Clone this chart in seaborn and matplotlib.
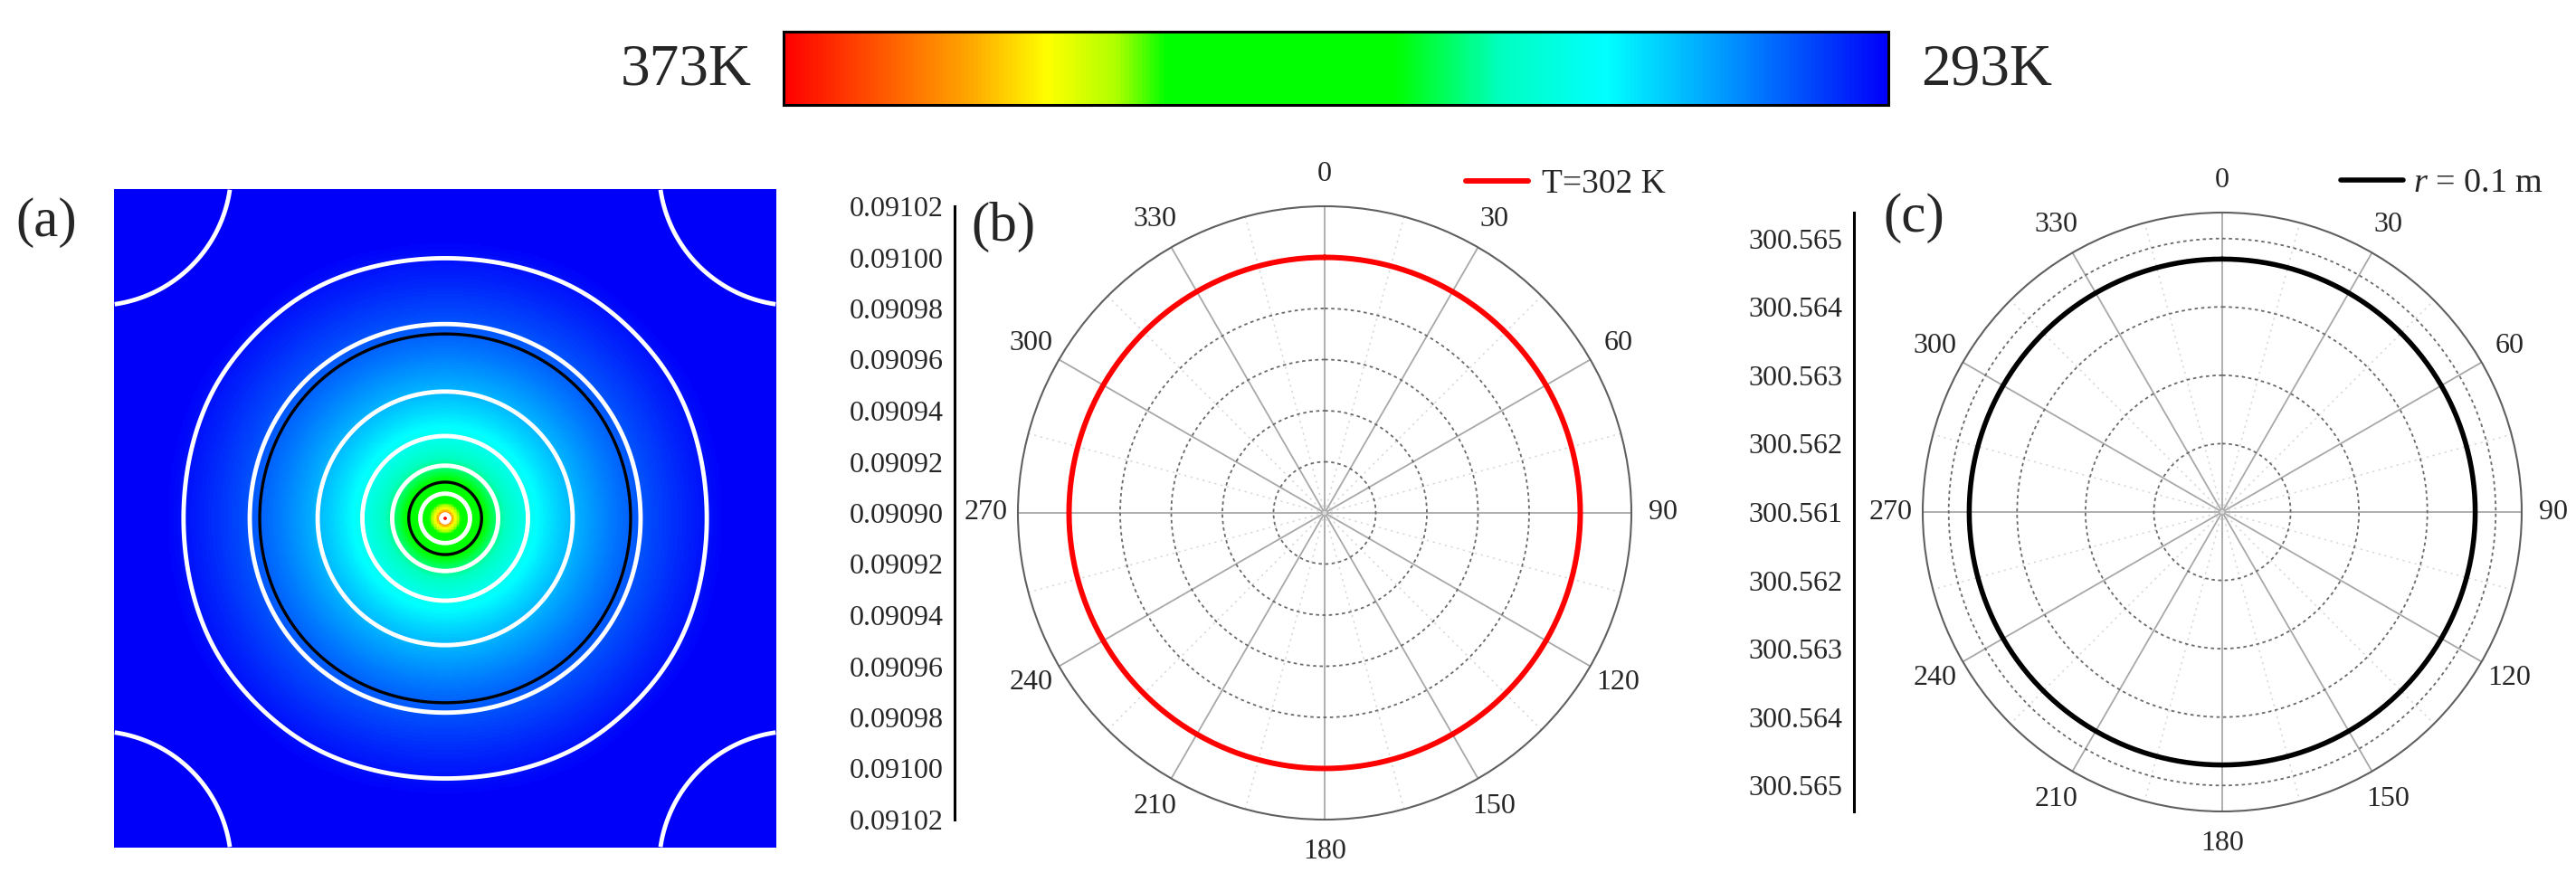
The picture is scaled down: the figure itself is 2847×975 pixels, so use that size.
import numpy as np
import matplotlib
matplotlib.use("Agg")
import matplotlib.pyplot as plt
import seaborn as sns
from matplotlib.colors import LinearSegmentedColormap
from matplotlib.ticker import FixedLocator, FixedFormatter

sns.set_style("white")
plt.rcParams['font.family'] = ['Liberation Serif', 'DejaVu Serif']
plt.rcParams['mathtext.fontset'] = 'custom'
plt.rcParams['mathtext.rm'] = 'Liberation Serif'
plt.rcParams['mathtext.it'] = 'Liberation Serif:italic'

# ---------------- data ----------------
T_low, T_high = 293, 373
cbar_left_label = "373K"
cbar_right_label = "293K"
cmap_positions = [0.0, 0.155, 0.254, 0.35, 0.447, 0.654, 0.70, 0.762, 0.83, 0.92, 1.0]
cmap_colors = ["#0000FA", "#00A0FF", "#00FFFF", "#00FFC0", "#00FF00", "#00FF00",
               "#B0FF00", "#FFFF00", "#FFAA00", "#FF5000", "#FF0000"]

# panel (a): temperature field model (normalised half-width units)
zero_radius = 0.85          # radius where field reaches 293 K
hot_radius = 0.0105         # radius where field reaches 373 K
square_factor = 0.03        # squareness of outer isotherms
well_depth = 3.0
well_width = 0.25
white_contour_radii = [0.012, 0.075, 0.16, 0.25, 0.385, 0.59, 0.79]
black_contour_radii = [0.11, 0.56]
corner_contour_offset = 0.35

# panel (b): T = 302 K isotherm radius vs angle
angles_deg = list(range(0, 361, 2))
iso302_radius = [0.09100] * len(angles_deg)
b_rmin, b_rmax = 0.09090, 0.09102
b_rings = [0.09092, 0.09094, 0.09096, 0.09098, 0.09100]
b_scale_labels = ["0.09102", "0.09100", "0.09098", "0.09096", "0.09094", "0.09092", "0.09090",
                  "0.09092", "0.09094", "0.09096", "0.09098", "0.09100", "0.09102"]

# panel (c): temperature on r = 0.1 m vs angle
r01_temperature = [300.5647] * len(angles_deg)
c_rmin, c_rmax = 300.561, 300.56538
c_rings = [300.562, 300.563, 300.564, 300.565]
c_scale_labels = ["300.565", "300.564", "300.563", "300.562", "300.561",
                  "300.562", "300.563", "300.564", "300.565"]

angle_labels = ["0", "30", "60", "90", "120", "150", "180", "210", "240", "270", "300", "330"]

# ---------------- figure ----------------
W, H = 2847, 975
fig = plt.figure(figsize=(W / 100, H / 100), dpi=100)


def fr(x0, y0, x1, y1):
    return [x0 / W, 1 - y1 / H, (x1 - x0) / W, (y1 - y0) / H]


cmap = LinearSegmentedColormap.from_list("temp", list(zip(cmap_positions, cmap_colors)))


def field(x, y):
    r = np.hypot(x, y)
    rs = np.maximum(r, 1e-6)
    s2 = (2 * x * y / rs ** 2) ** 2
    rho = r * (1 - square_factor * s2 * np.minimum(1, (r / 0.87) ** 4))
    rho = np.maximum(rho, 1e-4)
    F = np.log(zero_radius / rho)
    for cx in (-1, 1):
        for cy in (-1, 1):
            F = F - well_depth * np.exp(-((x - cx) ** 2 + (y - cy) ** 2) / well_width ** 2)
    return F


N = 500
g = -1 + (np.arange(N) + 0.5) * 2 / N
X, Y = np.meshgrid(g, g)
F = field(X, Y)
Fhot = np.log(zero_radius / hot_radius)
Tfield = T_low + (T_high - T_low) * np.clip(F / Fhot, 0, 1)

axA = fig.add_axes(fr(126, 209, 858, 937))
cax = fig.add_axes(fr(866, 35, 2087, 116))
sns.heatmap(Tfield, ax=axA, cmap=cmap, vmin=T_low, vmax=T_high, cbar=True, cbar_ax=cax,
            cbar_kws={'orientation': 'horizontal'}, xticklabels=False, yticklabels=False,
            rasterized=True)
cc = np.arange(N) + 0.5
white_levels = sorted([float(field(r, 0.0)) for r in white_contour_radii] +
                      [float(field(1 - corner_contour_offset, 1.0))])
black_levels = sorted([float(field(r, 0.0)) for r in black_contour_radii])
axA.contour(cc, cc, F, levels=white_levels, colors='white', linewidths=3.5, linestyles='solid')
axA.contour(cc, cc, F, levels=black_levels, colors='black', linewidths=2.4, linestyles='solid')

cbar = axA.collections[0].colorbar
cbar.ax.invert_xaxis()
cbar.set_ticks([])
cbar.outline.set_linewidth(2.2)
cbar.outline.set_edgecolor('black')

fig.text(758 / W, 1 - 78 / H, cbar_left_label, fontsize=47, ha='center', va='center')
fig.text(2196 / W, 1 - 78 / H, cbar_right_label, fontsize=47, ha='center', va='center')

fig.text(51 / W, 1 - 246 / H, "(a)", fontsize=44, ha='center', va='center')
fig.text(1109 / W, 1 - 251 / H, "(b)", fontsize=44, ha='center', va='center')
fig.text(2115 / W, 1 - 241 / H, "(c)", fontsize=44, ha='center', va='center')


def setup_polar(ax, rmin, rmax, rings):
    ax.set_theta_zero_location('N')
    ax.set_theta_direction(-1)
    ax.set_ylim(rmin, rmax)
    ax.set_yticks(rings)
    ax.set_yticklabels([])
    ax.set_xticks(np.deg2rad(np.arange(0, 360, 30)))
    ax.set_xticklabels(angle_labels)
    ax.xaxis.set_minor_locator(FixedLocator(np.deg2rad(np.arange(15, 360, 30))))
    ax.grid(True, which='major', axis='x', color='#a8a8a8', linewidth=1.3, linestyle='-')
    ax.grid(True, which='minor', axis='x', color='#d8d8d8', linewidth=1.1, linestyle=(0, (1.5, 3)))
    ax.grid(True, which='major', axis='y', color='#6a6a6a', linewidth=1.3, linestyle=(0, (2, 2)))
    ax.tick_params(axis='x', which='major', labelsize=23, pad=18.5, direction='in',
                   length=10, width=1.3, color='#555555')
    ax.tick_params(axis='x', which='minor', direction='in', length=7, width=1.1, color='#777777')
    ax.tick_params(axis='y', length=0)
    ax.spines['polar'].set_color('#606060')
    ax.spines['polar'].set_linewidth(1.5)


def radial_scale(rect, span, labels):
    ax = fig.add_axes(rect)
    ax.set_xlim(0, 1)
    ax.set_ylim(-span, span)
    for s in ['top', 'right', 'bottom']:
        ax.spines[s].set_visible(False)
    ax.spines['left'].set_linewidth(2.2)
    ax.spines['left'].set_color('black')
    ax.set_xticks([])
    n = len(labels)
    half = float(labels[0]) - float(labels[n // 2])
    ticks = np.linspace(half, -half, n)
    ax.yaxis.set_major_locator(FixedLocator(ticks))
    ax.yaxis.set_major_formatter(FixedFormatter(labels))
    ax.tick_params(axis='y', length=0, pad=9, labelsize=23)
    ax.patch.set_alpha(0)
    return ax


theta = np.deg2rad(angles_deg)

# ---- panel (b)
axB = fig.add_axes(fr(1464 - 339, 567 - 339, 1464 + 339, 567 + 339), projection='polar')
sns.lineplot(x=theta, y=iso302_radius, ax=axB, color='#FF0000', linewidth=4.3,
             sort=False, estimator=None, label='T=302 K')
setup_polar(axB, b_rmin, b_rmax, b_rings)
axB.legend(loc='center left', bbox_to_anchor=(1620 / W, 1 - 204 / H), bbox_transform=fig.transFigure,
           frameon=False, fontsize=27, handlelength=1.85, handletextpad=0.4,
           borderpad=0, borderaxespad=0)
radial_scale(fr(1055, 228, 1057, 906), b_rmax - b_rmin, b_scale_labels)

# ---- panel (c)
axC = fig.add_axes(fr(2456 - 331, 566 - 331, 2456 + 331, 566 + 331), projection='polar')
sns.lineplot(x=theta, y=r01_temperature, ax=axC, color='black', linewidth=4.0,
             sort=False, estimator=None, label=r'$r$ = 0.1 m')
setup_polar(axC, c_rmin, c_rmax, c_rings)
axC.legend(loc='center left', bbox_to_anchor=(2587 / W, 1 - 203 / H), bbox_transform=fig.transFigure,
           frameon=False, fontsize=27.5, handlelength=1.8, handletextpad=0.3,
           borderpad=0, borderaxespad=0)
radial_scale(fr(2049, 235, 2051, 897), c_rmax - c_rmin, c_scale_labels)

fig.savefig("out.png", dpi=100)
